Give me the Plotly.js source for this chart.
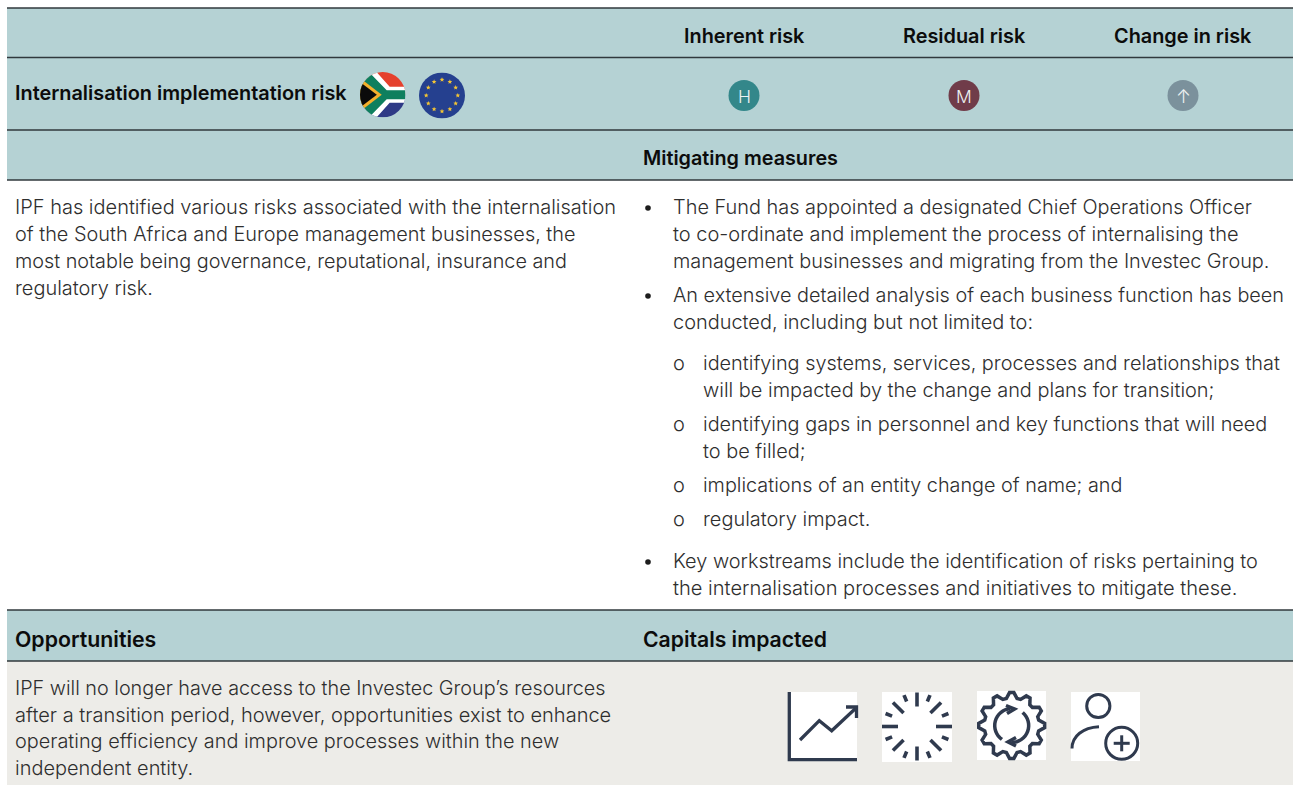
<!DOCTYPE html>
<html><head><meta charset="utf-8">
<script src="https://cdn.plot.ly/plotly-3.0.1.min.js"></script>
<style>html,body{margin:0;padding:0;background:#fff}#c{width:1293px;height:785px}</style></head>
<body><div id="c"></div>
<script>
// ---- content ----
const columnHeads = ["Inherent risk", "Residual risk", "Change in risk"];
const ratings = ["H", "M", "↑"];
const ratingColors = ["#33878a", "#703c49", "#7b919c"];
const riskTitle = "Internalisation implementation risk";
const sectionHeads = ["Mitigating measures", "Opportunities", "Capitals impacted"];
const riskLines = [
  "IPF has identified various risks associated with the internalisation",
  "of the South Africa and Europe management businesses, the",
  "most notable being governance, reputational, insurance and",
  "regulatory risk."];
const bullet1 = [
  "The Fund has appointed a designated Chief Operations Officer",
  "to co-ordinate and implement the process of internalising the",
  "management businesses and migrating from the Investec Group."];
const bullet2 = [
  "An extensive detailed analysis of each business function has been",
  "conducted, including but not limited to:"];
const subBullets = [
  ["identifying systems, services, processes and relationships that",
   "will be impacted by the change and plans for transition;"],
  ["identifying gaps in personnel and key functions that will need",
   "to be filled;"],
  ["implications of an entity change of name; and"],
  ["regulatory impact."]];
const bullet3 = [
  "Key workstreams include the identification of risks pertaining to",
  "the internalisation processes and initiatives to mitigate these."];
const opportunityLines = [
  "IPF will no longer have access to the Investec Group’s resources",
  "after a transition period, however, opportunities exist to enhance",
  "operating efficiency and improve processes within the new",
  "independent entity."];

// ---- helpers ----
const FONT = "Inter, 'Noto Sans', sans-serif";
const INK = "#2e2e2e", BOLD = "#0c0c0c", TEAL = "#b5d2d4", GREY = "#edecE8", NAVY = "#2f3a4e";
const BASE = 19.96;
const ann = [], shp = [], img = [];
function text(x, y, s, o = {}) {
  const anchor = o.anchor || "left";
  ann.push({x: anchor === "left" ? x - 2 : x, y, xref: "x", yref: "y", text: s, showarrow: false,
    xanchor: anchor, yanchor: "middle",
    font: {family: FONT, size: o.size || BASE, color: o.color || INK, weight: o.weight || 300}});
}
const head = (x, y, s, anchor, size = 19.88) => text(x, y, s, {color: BOLD, weight: 600, size, anchor});
function rect(x0, y0, x1, y1, fill) {
  shp.push({type: "rect", x0, y0, x1, y1, fillcolor: fill, line: {width: 0}, layer: "below"});
}
function rule(y, w = 1.5) {
  shp.push({type: "line", x0: 7, x1: 1293, y0: y, y1: y, line: {color: "#30393d", width: w}});
}
function circ(cx, cy, r, fill, lineCol, lw) {
  shp.push({type: "circle", x0: cx - r, x1: cx + r, y0: cy - r, y1: cy + r,
    fillcolor: fill || "rgba(0,0,0,0)", line: lineCol ? {color: lineCol, width: lw} : {width: 0}});
}
function stroke(d, w = 3.3, col = NAVY) {
  shp.push({type: "path", path: d, line: {color: col, width: w}, fillcolor: "rgba(0,0,0,0)"});
}
function seg(x0, y0, x1, y1, w = 3.3) {
  shp.push({type: "line", x0, y0, x1, y1, line: {color: NAVY, width: w}});
}
function arc(cx, cy, r, a0, a1, n = 16) {
  let d = "";
  for (let i = 0; i <= n; i++) {
    const a = (a0 + (a1 - a0) * i / n) * Math.PI / 180;
    d += (i ? "L" : "M") + (cx + r * Math.cos(a)).toFixed(2) + "," + (cy + r * Math.sin(a)).toFixed(2);
  }
  return d;
}

// ---- backgrounds and rules ----
rect(7, 8, 1293, 180, TEAL);
rect(7, 610, 1293, 661, TEAL);
rect(7, 661, 1293, 785, GREY);
[8, 57.5, 130, 180, 610, 661].forEach(y => rule(y));

// ---- header rows ----
const colX = [744, 964, 1183];
columnHeads.forEach((s, i) => head(colX[i], 36, s, "center"));
head(15, 93, riskTitle);
ratings.forEach((s, i) => {
  circ(colX[i], 95.5, 15.5, ratingColors[i]);
  text(colX[i], 96, s, {anchor: "center", color: "#eef2f2", size: i === 2 ? 18 : 17.5, weight: 300});
});
head(642.5, 158, sectionHeads[0], "left", 19.8);
head(15, 639, sectionHeads[1], "left", 21.3);
head(642.5, 639, sectionHeads[2], "left", 21.15);

// ---- flags ----
function flagZA() {
  return `<svg xmlns="http://www.w3.org/2000/svg" width="92" height="92" viewBox="0 0 46 46"><defs><clipPath id="k"><circle cx="23" cy="23" r="23"/></clipPath></defs><g clip-path="url(#k)"><rect width="46" height="23" fill="#e5412d"/><rect y="23" width="46" height="23" fill="#2e3a86"/><path d="M-6,-3L14,-3L30,15L52,15L52,31L30,31L14,49L-6,49Z" fill="#fff"/><path d="M-6,0L9,0L27,18.5L52,18.5L52,27.5L27,27.5L9,46L-6,46Z" fill="#0e7f5e"/><path d="M0,6L22,23L0,40Z" fill="#f5b02c"/><path d="M0,10L17,23L0,36Z" fill="#0b0b0b"/></g></svg>`;
}
function flagEU() {
  let stars = "";
  for (let i = 0; i < 12; i++) {
    const a = i * 30 * Math.PI / 180;
    const cx = 23 + 15.8 * Math.sin(a), cy = 23 - 15.8 * Math.cos(a);
    let p = "";
    for (let k = 0; k < 10; k++) {
      const r = k % 2 ? 1.1 : 2.5, b = k * 36 * Math.PI / 180;
      p += (k ? "L" : "M") + (cx + r * Math.sin(b)).toFixed(2) + "," + (cy - r * Math.cos(b)).toFixed(2);
    }
    stars += `<path d="${p}Z" fill="#f4c534"/>`;
  }
  return `<svg xmlns="http://www.w3.org/2000/svg" width="92" height="92" viewBox="0 0 46 46"><circle cx="23" cy="23" r="23" fill="#25408f"/>${stars}</svg>`;
}
function addImg(svg, x, y, s) {
  img.push({source: "data:image/svg+xml;charset=utf-8," + encodeURIComponent(svg), xref: "x", yref: "y",
    x, y, sizex: s, sizey: s, xanchor: "left", yanchor: "top", sizing: "stretch", layer: "above"});
}
addImg(flagZA(), 360, 72, 45.5);
addImg(flagEU(), 419, 72.5, 46);

// ---- body text; per-line size factors follow the slightly varying line widths of the source ----
function lines(x, y, arr, fit, step = 27) {
  arr.forEach((s, i) => text(x, y + i * step, s, {size: BASE * (fit[i] || 1)}));
}
lines(15, 207, riskLines, [1.0017, 0.9964, 0.9928, 1]);
lines(15, 688, opportunityLines, [0.9916, 1.0034, 0.9963, 1], 26.7);

const X1 = 673, X2 = 703;
function bulletBlock(arr, y, fit) {
  circ(648, y + 1, 2.8, "#1d1d1d");
  lines(X1, y, arr, fit);
}
bulletBlock(bullet1, 207, [0.9983, 1.0018, 0.995]);
bulletBlock(bullet2, 295, [0.9935, 1]);
const subY = [363, 424, 485, 519];
const subFit = [[0.9965, 1], [0.9965, 1], [0.993], [1]];
subBullets.forEach((arr, j) => {
  text(X1, subY[j], "o");
  lines(X2, subY[j], arr, subFit[j]);
});
bulletBlock(bullet3, 561, [0.998, 1.007]);

// ---- capital icons ----
[[788, 692, 69], [882, 692, 70], [977, 691, 69], [1071, 692, 69]].forEach(([x, y, s]) => rect(x, y, x + s, y + s, "#ffffff"));
// chart icon
stroke("M789.3,692L789.3,759.6L857,759.6");
stroke("M800,740L819.3,720.7L831.7,730.7L856,708");
stroke("M846,707L856.5,707L856.5,718");
// burst icon
const BC = [917, 726.5];
[[0,19,35],[90,20,34],[180,19,35],[270,20,34],
 [45,19,34],[135,19,34],[225,19,34],[315,19,34]].forEach(([a, r0, r1]) => {
  const t = a * Math.PI / 180;
  seg(BC[0] + r0 * Math.cos(t), BC[1] + r0 * Math.sin(t), BC[0] + r1 * Math.cos(t), BC[1] + r1 * Math.sin(t), 3.6);
});
[22.5,67.5,112.5,157.5,202.5,247.5,292.5,337.5].forEach(a => {
  const t = a * Math.PI / 180;
  seg(BC[0] + 27 * Math.cos(t), BC[1] + 27 * Math.sin(t), BC[0] + 34 * Math.cos(t), BC[1] + 34 * Math.sin(t), 3.6);
});
// gear icon
(function () {
  const cx = 1011.7, cy = 725.5, teeth = 12;
  let d = "";
  for (let i = 0; i < teeth * 4; i++) {
    const r = (i % 4 === 0 || i % 4 === 1) ? 33 : 27.5;
    const a = ((i - 0.5) / (teeth * 4)) * 2 * Math.PI;
    d += (i ? "L" : "M") + (cx + r * Math.cos(a)).toFixed(2) + "," + (cy + r * Math.sin(a)).toFixed(2);
  }
  stroke(d + "Z", 3.5);
  stroke(arc(cx, cy, 17, 125, 265), 3.5);
  stroke(arc(cx, cy, 17, -50, 90), 3.5);
  stroke("M1006,705.5L1014.5,709L1007,713.5", 3.5);
  stroke("M1016,737.5L1008,742L1016,746", 3.5);
})();
// person icon
circ(1098.3, 706, 11.6, "rgba(0,0,0,0)", NAVY, 3);
stroke("M1072,748.5C1072,736 1083,727.5 1099,726.7", 3);
circ(1121.7, 743.3, 16, "rgba(0,0,0,0)", NAVY, 3);
seg(1113.7, 743.3, 1129.7, 743.3, 3);
seg(1121.7, 735.3, 1121.7, 751.3, 3);

Plotly.newPlot("c", [], {
  width: 1293, height: 785, margin: {l: 0, r: 0, t: 0, b: 0},
  paper_bgcolor: "#ffffff", plot_bgcolor: "#ffffff", showlegend: false,
  xaxis: {range: [0, 1293], visible: false, fixedrange: true},
  yaxis: {range: [785, 0], visible: false, fixedrange: true},
  shapes: shp, annotations: ann, images: img
}, {displayModeBar: false, staticPlot: true});
</script></body></html>
